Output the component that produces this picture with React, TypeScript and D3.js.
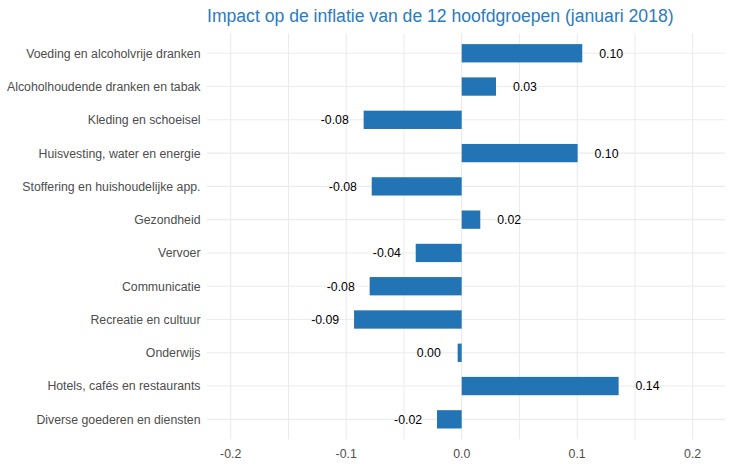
import React from "react";
import * as d3 from "d3";

const categories = [
  "Voeding en alcoholvrije dranken",
  "Alcoholhoudende dranken en tabak",
  "Kleding en schoeisel",
  "Huisvesting, water en energie",
  "Stoffering en huishoudelijke app.",
  "Gezondheid",
  "Vervoer",
  "Communicatie",
  "Recreatie en cultuur",
  "Onderwijs",
  "Hotels, cafés en restaurants",
  "Diverse goederen en diensten",
];
const values = [0.1044, 0.0297, -0.0849, 0.1004, -0.0779, 0.0161, -0.0398, -0.0797, -0.0932, -0.0035, 0.1359, -0.0214];
const xTicks = [-0.2, -0.1, 0, 0.1, 0.2];
const xMinor = [-0.15, -0.05, 0.05, 0.15];
const title = "Impact op de inflatie van de 12 hoofdgroepen (januari 2018)";

const W = 733;
const H = 464;
const left = 206.7;
const right = 725;
const top = 33.3;
const bottom = 439.3;

const hy = (s: string) => s.replace("\u2212", "-");

export default function App() {
  const x = d3.scaleLinear().domain([-0.2208, 0.228]).range([left, right]);
  const y = d3
    .scalePoint<string>()
    .domain(categories)
    .range([top, bottom])
    .padding(0.6);
  const step = y.step();
  const barH = step * 0.55;
  const font = "Liberation Sans, Arial, sans-serif";
  const fmt = d3.format(".2f");

  return (
    <svg
      width={W}
      height={H}
      style={{ position: "absolute", left: 0, top: 0, background: "#fff" }}
      fontFamily={font}
    >
      {xMinor.map((t) => (
        <line key={"mi" + t} x1={x(t)} x2={x(t)} y1={top} y2={bottom} stroke="#ebebeb" strokeWidth={1} />
      ))}
      {xTicks.map((t) => (
        <line key={"ma" + t} x1={x(t)} x2={x(t)} y1={top} y2={bottom} stroke="#ebebeb" strokeWidth={1.1} />
      ))}
      {categories.map((c) => (
        <line key={"h" + c} x1={left} x2={right} y1={y(c)} y2={y(c)} stroke="#ebebeb" strokeWidth={1.1} />
      ))}
      {categories.map((c, i) => {
        const v = values[i];
        const x0 = x(Math.min(0, v));
        const x1 = x(Math.max(0, v));
        return (
          <rect key={"b" + c} x={x0} y={(y(c) as number) - barH / 2} width={x1 - x0} height={barH} fill="#2274b4" />
        );
      })}
      {categories.map((c, i) => {
        const v = values[i];
        const lx = x(v + (v >= 0 ? 0.025 : -0.025));
        return (
          <text key={"l" + c} x={lx} y={(y(c) as number) + 4.4} textAnchor="middle" fontSize={12.3} fill="#000">
            {hy(fmt(v))}
          </text>
        );
      })}
      {categories.map((c) => (
        <text key={"y" + c} x={200.5} y={(y(c) as number) + 4.4} textAnchor="end" fontSize={12.3} fill="#4d4d4d">
          {c}
        </text>
      ))}
      {xTicks.map((t) => (
        <text key={"xt" + t} x={x(t)} y={457.5} textAnchor="middle" fontSize={12.3} fill="#4d4d4d">
          {hy(d3.format(".1f")(t))}
        </text>
      ))}
      <text x={207} y={22} fontSize={17.6} fill="#2b7bbf">
        {title}
      </text>
    </svg>
  );
}
